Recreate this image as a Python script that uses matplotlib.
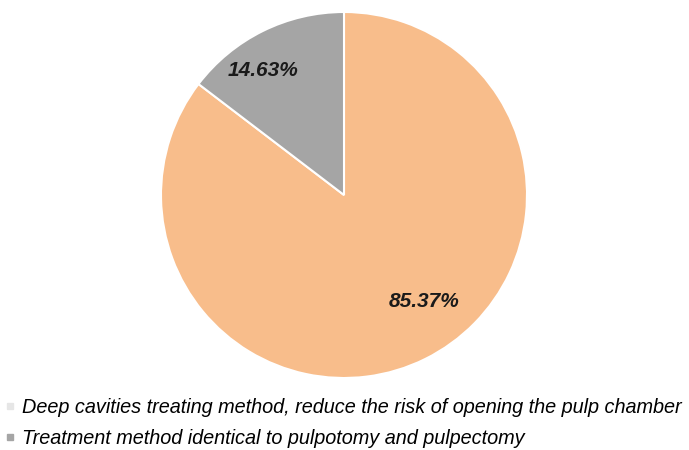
import matplotlib.pyplot as plt
from matplotlib.lines import Line2D

labels = ["Deep cavities treating method, reduce the risk of opening the pulp chamber",
          "Treatment method identical to pulpotomy and pulpectomy"]
values = [85.37, 14.63]
colors = ["#F8BD8B", "#A5A5A5"]

plt.rcParams['font.family'] = ['Liberation Sans', 'DejaVu Sans']

fig = plt.figure(figsize=(6.89, 4.5), dpi=100)
ax = fig.add_axes([161 / 689, 72 / 450, 366 / 689, 366 / 450])

wedges, texts, autotexts = ax.pie(values, colors=colors, startangle=90, counterclock=False,
                                  autopct=lambda p: f"{p:.2f}%", pctdistance=0.78,
                                  wedgeprops=dict(edgecolor="white", linewidth=1.5),
                                  textprops=dict(fontsize=15, fontweight="bold", fontstyle="italic",
                                                 color="#1a1a1a"))
# nudge labels to where the original puts them
autotexts[0].set_position((0.44, -0.58))
autotexts[1].set_position((-0.44, 0.68))
ax.set_xlim(-1, 1)
ax.set_ylim(-1, 1)

handles = [Line2D([], [], marker="s", linestyle="none", markersize=4,
                  markerfacecolor=c, markeredgecolor=c) for c in ["#E6E6E6", colors[1]]]
fig.legend(handles, labels, loc="upper left", bbox_to_anchor=(0.0, 0.125), frameon=False,
           prop=dict(size=14.3, style="italic"), handlelength=0.6, handletextpad=0.3,
           labelspacing=0.6, borderaxespad=0.0, borderpad=0.2)

fig.savefig("out.png", dpi=100)
